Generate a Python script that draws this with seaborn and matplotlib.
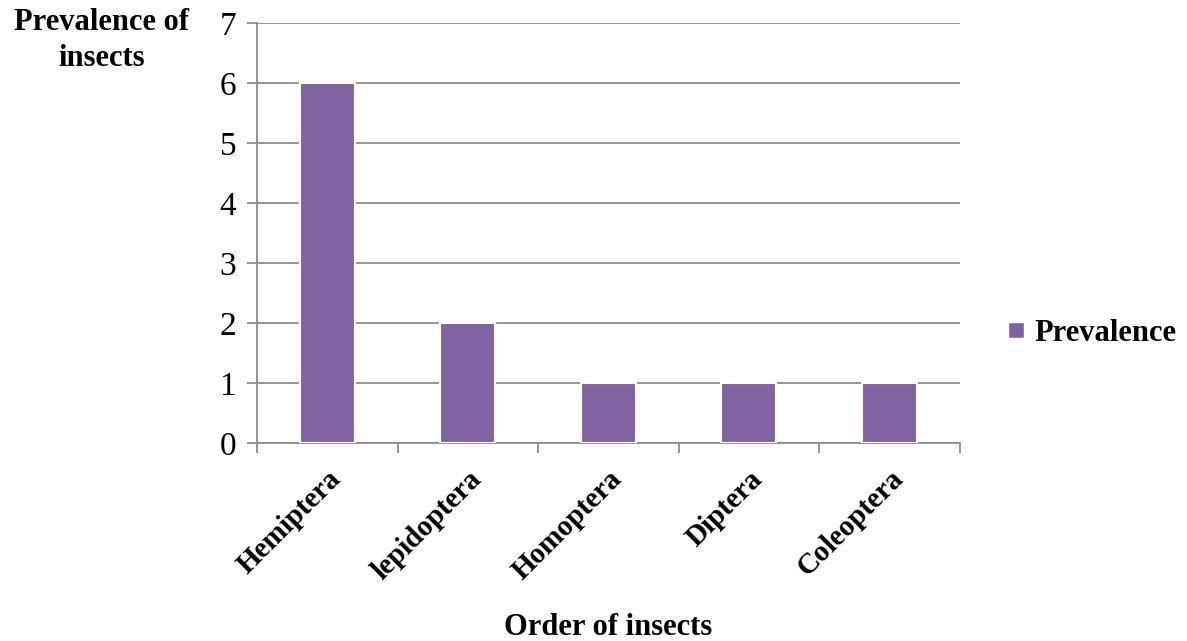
import numpy as np
import pandas as pd
import seaborn as sns
import matplotlib.pyplot as plt
from matplotlib.lines import Line2D
from matplotlib.ticker import FixedLocator

# Dữ liệu
orders = ['Hemiptera', 'lepidoptera', 'Homoptera', 'Diptera', 'Coleoptera']
prevalence = [6, 2, 1, 1, 1]
series_name = 'Prevalence'

df = pd.DataFrame({'Order': orders, 'Prevalence': prevalence})

sns.set_theme(style='white')
plt.rcParams['font.family'] = ['Liberation Serif', 'DejaVu Serif']
plt.rcParams['text.color'] = 'black'
plt.rcParams['xtick.color'] = 'black'
plt.rcParams['ytick.color'] = 'black'
plt.rcParams['axes.labelcolor'] = 'black'

bar_color = '#8064A2'
grid_color = '#8c8c8c'

fig = plt.figure(figsize=(11.87, 6.41), dpi=100)
ax = fig.add_axes([0.2165, 0.309, 0.592, 0.655])

sns.barplot(data=df, x='Order', y='Prevalence', color=bar_color, width=0.39,
            edgecolor='white', linewidth=1.5, saturation=1, ax=ax, zorder=3)

ax.set_ylim(0, 7)
ax.set_xlim(-0.5, len(orders) - 0.5)
ax.set_yticks(range(0, 8))
ax.yaxis.grid(True, color=grid_color, linewidth=1.3, zorder=0)
ax.set_axisbelow(True)

for side in ['top', 'right']:
    ax.spines[side].set_visible(False)
for side in ['left', 'bottom']:
    ax.spines[side].set_color(grid_color)
    ax.spines[side].set_linewidth(1.3)

ax.tick_params(axis='y', which='major', direction='out', length=7, width=1.3,
               color=grid_color, labelcolor='black', labelsize=24, pad=8, left=True)
ax.tick_params(axis='x', which='major', length=0, labelcolor='black', pad=16)
ax.xaxis.set_minor_locator(FixedLocator(np.arange(-0.5, len(orders), 1.0)))
ax.tick_params(axis='x', which='minor', direction='out', length=7, width=1.3,
               color=grid_color, bottom=True)

for lbl in ax.get_xticklabels():
    lbl.set_rotation(45)
    lbl.set_ha('right')
    lbl.set_rotation_mode('anchor')
    lbl.set_fontweight('bold')
    lbl.set_fontsize(21)

ax.set_xlabel('Order of insects', fontsize=22, fontweight='bold', labelpad=20)
ax.set_ylabel('Prevalence of\ninsects', fontsize=22, fontweight='bold',
              rotation=0, ha='center', va='top', linespacing=1.3)
ax.yaxis.set_label_coords(-0.221, 1.035)

handle = Line2D([], [], marker='s', linestyle='none', markersize=11,
                markerfacecolor=bar_color, markeredgecolor='white')
fig.legend([handle], [series_name], loc='center left',
           bbox_to_anchor=(0.817, 0.48), frameon=False, handletextpad=0.0,
           handlelength=1.2,
           prop={'family': 'Liberation Serif', 'weight': 'bold', 'size': 22})

fig.savefig('out.png', dpi=100, facecolor='white')
